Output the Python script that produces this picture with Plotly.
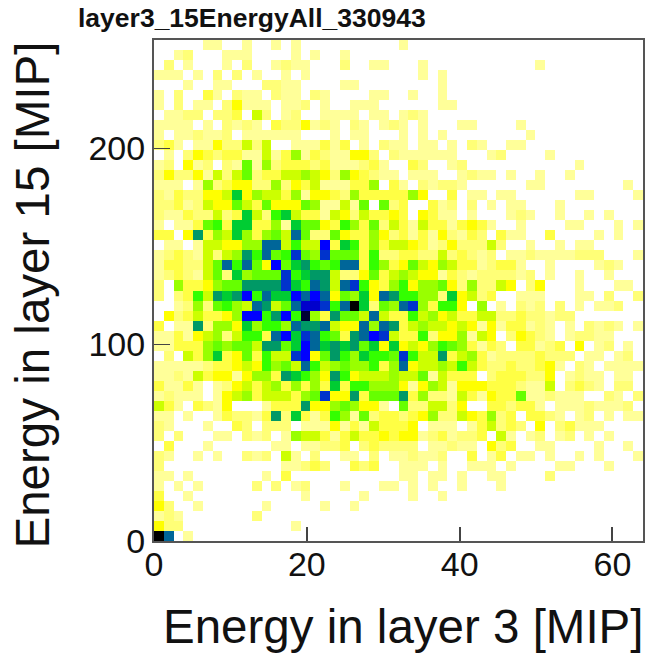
import plotly.graph_objects as go

TITLE = "layer3_15EnergyAll_330943"
X_TITLE = "Energy in layer 3 [MIP]"
Y_TITLE = "Energy in layer 15 [MIP]"
X_TICKS = [0, 20, 40, 60]
Y_TICKS = [0, 100, 200]
X_BIN = 1.28
Y_BIN = 5.1
Z = [0] * 10

PALETTE = ["#FFFFFF", "#FFFF99", "#FFFF77", "#FFFF44", "#FFFF00", "#CCFF00", "#99FF00", "#66FF00", "#33FF00",
           "#00CC33", "#009966", "#006699", "#0033CC", "#0000FF", "#0000CC", "#000033", "#000000"]

# top row first
rows_top_down = [
[0,0,0,0,0,1,1,0,0,1, 0,0,1,0,1,0,0,0,0,0, 0,0,0,0,0,1,0,0,0,0, *Z, *Z],
[0,0,1,2,0,0,0,1,1,1, 0,0,0,0,1,0,1,0,0,1, *Z, *Z, *Z],
[0,2,0,1,0,0,0,1,0,2, 0,0,1,2,1,1,0,0,0,2, 0,0,1,1,0,0,0,1,0,0, 0,0,0,0,0,0,0,0,0,1, *Z],
[1,1,1,0,1,0,2,0,2,0, 1,0,0,1,0,1,0,0,0,0, 0,0,0,0,0,0,0,1,0,1, *Z, *Z],
[0,0,0,1,0,0,1,1,0,0, 0,2,2,1,1,0,0,0,0,1, 1,0,0,0,0,0,0,0,0,1, *Z, *Z],
[1,0,2,0,0,3,1,0,2,1, 1,0,2,1,1,0,2,1,0,0, 0,0,1,1,0,0,1,0,0,1, *Z, *Z],
[1,0,2,0,1,1,0,2,4,1, 1,1,0,1,1,2,0,1,0,0, 1,1,1,0,0,0,0,0,0,1, 1,0,0,0,0,0,0,0,0,0, *Z],
[0,1,1,2,2,0,2,2,3,0, 5,2,0,1,2,0,0,1,1,1, 1,0,1,1,0,1,2,1,0,0, *Z, *Z],
[1,1,1,1,0,1,0,2,1,2, 1,0,3,2,2,4,1,2,1,0, 2,1,0,1,2,1,0,1,0,0, 0,1,1,0,0,0,0,1,0,0, *Z],
[1,0,1,1,2,1,1,2,0,1, 1,1,1,1,1,0,0,0,1,0, 1,1,0,0,0,1,0,1,0,1, 0,0,0,0,0,0,0,0,1,0, *Z],
[2,3,1,0,1,1,4,2,2,5, 2,5,0,0,1,1,1,3,1,3, 0,1,0,2,1,1,0,1,1,0, 1,0,2,1,0,0,1,1,0,0, *Z],
[0,1,0,2,4,3,2,3,3,1, 1,5,1,3,6,1,3,2,1,1, 4,4,2,0,2,1,1,1,1,1, 1,0,0,0,1,2,0,0,0,0, 1,0,0,0,0,0,0,0,0,0],
[1,2,0,4,1,2,0,2,1,7, 1,6,2,3,3,3,2,3,1,1, 1,2,3,1,0,0,3,2,0,0, 1,2,0,0,0,0,0,0,0,0, 0,0,0,1,0,0,0,0,0,0],
[2,4,2,2,4,1,5,2,5,7, 2,3,3,5,5,6,5,4,2,6, 4,3,2,1,1,0,1,1,1,0, 0,1,2,1,1,0,1,0,0,1, 0,0,1,0,0,0,0,0,0,0],
[1,1,1,0,1,6,2,3,4,4, 2,2,6,2,4,3,5,1,1,1, 3,3,6,0,3,1,0,2,1,2, 2,1,0,0,0,0,0,0,1,1, 0,0,0,0,0,0,0,0,1,0],
[2,1,3,2,2,4,4,5,9,4, 6,5,5,3,6,1,4,4,3,2, 6,3,3,3,3,3,6,4,0,0, 3,0,1,1,0,1,1,0,0,0, 0,0,0,1,1,0,0,0,0,1],
[2,2,3,1,2,5,4,4,7,5, 3,7,4,4,4,7,6,1,1,5, 1,7,0,7,2,3,0,0,3,1, 2,0,2,0,1,0,1,1,0,0, 0,1,0,0,0,0,0,0,0,0],
[2,1,1,3,2,2,5,2,3,9, 5,2,8,9,5,3,3,1,5,4, 2,5,3,3,4,3,0,4,3,1, 1,0,1,0,0,0,1,2,1,0, 0,1,0,0,1,0,1,0,0,0],
[1,0,1,1,3,7,8,3,9,9, 3,3,6,1,9,7,7,4,3,8, 6,3,7,2,5,3,1,5,3,3, 1,3,4,3,1,0,0,1,0,0, 0,0,1,1,0,0,0,1,0,1],
[3,3,0,4,10,3,6,5,9,6, 3,6,7,5,11,7,2,2,7,4, 3,3,6,4,2,3,1,3,1,4, 2,1,3,2,0,3,1,1,0,0, 3,0,0,0,0,1,0,1,0,0],
[0,1,1,0,1,5,5,4,4,6, 6,11,11,5,8,5,5,13,3,9, 8,3,6,3,5,5,4,3,1,2, 4,2,2,2,5,2,0,0,1,0, 0,1,0,1,1,0,0,0,0,0],
[1,2,3,2,1,5,2,5,6,10, 8,11,7,8,12,7,6,12,7,7, 7,3,8,2,2,3,3,2,2,5, 2,3,2,1,2,0,1,1,2,1, 1,1,1,2,2,2,0,0,0,1],
[1,3,3,2,2,5,7,11,8,11, 7,4,13,7,9,10,8,7,8,11, 11,3,8,6,3,4,7,5,4,6, 5,3,3,1,2,3,3,1,0,0, 1,0,0,0,0,1,2,1,0,0],
[1,2,3,2,1,5,7,2,9,6, 7,7,7,12,8,9,10,10,5,2, 2,4,7,3,5,6,5,4,4,1, 3,2,1,2,2,2,2,1,2,0, 1,0,0,1,0,0,1,0,0,0],
[2,0,6,3,3,4,6,7,7,10, 10,10,10,12,9,8,11,10,5,11, 12,8,4,3,6,8,4,6,6,7, 4,2,6,2,2,5,4,0,2,4, 0,0,0,1,0,0,0,1,1,0],
[2,0,2,3,8,5,10,9,10,13, 8,11,9,9,13,11,13,11,4,7, 6,9,4,11,10,8,8,6,6,2, 9,4,5,2,3,0,0,1,1,1, 0,0,0,1,1,0,2,0,0,2],
[0,0,1,2,6,2,7,8,6,5, 11,10,5,7,11,14,14,12,8,11, 16,9,2,7,6,11,12,6,3,8, 8,4,0,6,0,1,0,2,1,2, 0,2,0,1,0,1,1,2,0,0],
[0,4,2,3,5,3,3,4,6,13, 13,8,10,13,8,15,6,3,10,7, 7,5,11,5,3,3,8,5,6,4, 5,3,3,5,5,2,2,3,2,2, 1,2,2,0,0,0,0,0,0,0],
[3,0,1,1,10,2,6,6,4,9, 6,8,8,6,11,10,10,11,5,4, 4,11,6,11,10,3,5,6,5,5, 4,5,4,1,4,1,3,3,1,2, 1,0,1,0,2,1,2,1,0,1],
[1,1,3,1,4,5,6,2,5,8, 8,3,11,13,9,12,11,8,7,3, 10,11,13,12,5,3,3,8,2,4, 4,6,1,5,4,0,2,4,3,2, 1,0,1,2,2,1,1,0,0,0],
[1,1,3,3,3,6,7,6,7,7, 5,10,10,7,9,13,11,9,10,9, 10,7,9,4,9,4,5,4,6,8, 7,6,3,1,3,2,0,3,3,1, 2,3,0,4,0,1,2,0,1,0],
[0,2,0,5,3,6,9,3,4,7, 3,8,5,5,12,13,4,7,10,8, 6,9,8,8,7,12,8,5,5,10, 3,5,6,3,1,2,2,2,2,3, 2,2,2,0,1,1,0,1,2,0],
[1,1,1,1,1,2,3,3,4,5, 4,8,6,7,5,11,8,5,6,7, 6,6,8,3,6,11,4,5,5,6, 5,8,5,3,2,2,3,2,2,3, 4,1,0,2,1,0,1,1,1,1],
[1,1,2,1,5,3,4,4,1,4, 6,6,3,10,9,8,6,4,10,8, 4,5,5,5,6,5,5,7,1,5, 3,3,3,0,2,3,3,3,2,2, 4,0,1,2,1,1,0,1,1,0],
[3,1,1,3,1,0,1,2,4,5, 3,5,6,3,6,3,6,3,9,3, 8,8,6,6,6,4,1,4,6,5, 1,4,4,4,3,3,3,2,1,1, 5,0,2,3,2,1,0,2,2,0],
[1,2,1,1,1,0,1,4,5,6, 3,5,5,5,3,6,7,12,4,4, 10,3,7,7,7,10,3,6,2,2, 1,5,3,1,4,3,3,7,1,1, 2,1,1,1,0,0,2,1,0,2],
[5,3,1,0,3,2,1,4,0,0, 0,1,3,3,3,10,4,4,6,7, 6,4,4,1,0,7,2,2,5,5, 2,4,0,0,3,3,2,3,3,1, 0,1,1,1,2,1,1,1,2,0],
[1,1,0,1,0,0,1,3,2,2, 1,3,10,2,9,3,1,3,8,6, 1,7,2,3,3,2,3,4,6,2, 2,5,4,3,6,2,3,0,3,3, 2,1,0,1,2,0,1,0,1,1],
[2,1,0,0,0,1,0,0,3,2, 0,2,2,2,0,1,1,1,4,1, 3,1,5,3,3,3,4,0,1,1, 1,0,1,3,5,2,3,2,0,4, 0,2,3,1,1,1,0,0,0,0],
[2,0,2,0,0,0,1,1,0,2, 1,2,0,1,6,5,5,3,1,3, 5,3,3,4,3,4,4,1,2,3, 1,2,2,3,0,5,1,0,1,2, 0,1,2,0,1,0,1,0,0,0],
[0,3,0,0,0,1,0,0,0,0, 0,0,1,1,0,1,1,2,2,3, 0,2,3,2,2,2,2,0,1,1, 2,1,1,0,4,2,3,0,0,1, 1,0,0,0,0,1,0,0,1,0],
[2,1,0,0,1,0,1,0,0,2, 1,2,0,5,1,0,2,0,0,1, 1,0,2,0,1,1,2,1,1,2, 0,0,3,0,1,3,0,1,1,0, 1,0,0,1,0,1,0,0,0,1],
[2,0,0,0,0,0,0,0,0,0, 0,0,0,1,1,2,3,2,0,0, 3,2,3,0,0,1,1,1,0,1, 0,0,1,1,1,0,1,0,0,0, 0,1,1,0,0,0,1,0,0,0],
[1,1,0,1,0,0,0,0,0,0, 0,1,0,3,0,0,0,0,0,0, 0,0,0,0,0,1,1,0,1,1, 0,1,0,0,1,1,0,0,0,0, 2,0,0,0,0,0,0,0,0,0],
[1,0,1,0,1,0,0,0,0,0, 2,0,2,0,1,2,0,0,0,1, 0,0,0,1,1,0,1,0,1,0, 0,1,0,0,0,1,0,0,0,0, *Z],
[3,0,0,1,0,0,0,0,0,0, 0,0,0,0,0,1,0,0,0,0, 0,1,0,0,0,0,1,0,0,1, *Z, *Z],
[4,2,0,0,1,0,0,0,0,0, 0,1,0,0,0,0,0,1,0,0, 1,0,0,0,0,0,0,0,0,0, *Z, *Z],
[1,2,1,0,0,0,0,0,0,0, 2,0,0,0,0,0,0,0,0,0, *Z, *Z, *Z],
[4,2,2,0,0,0,0,0,0,0, 0,0,0,0,1,0,0,0,0,0, *Z, *Z, *Z],
[16,11,0,1,0,0,0,0,0,0, *Z, *Z, *Z, *Z],
]
assert len(rows_top_down) == 50 and all(len(r) == 50 for r in rows_top_down)

n = len(PALETTE)
colorscale = []
for i, c in enumerate(PALETTE):
    colorscale += [[i / n, c], [(i + 1) / n, c]]

fig = go.Figure(go.Heatmap(
    z=rows_top_down[::-1], x0=X_BIN / 2, dx=X_BIN, y0=Y_BIN / 2, dy=Y_BIN,
    zmin=-0.5, zmax=n - 0.5, colorscale=colorscale, showscale=False, hoverongaps=False,
))

FONT = "Liberation Sans, Arial, sans-serif"
axis = dict(showgrid=False, zeroline=False, showline=True, mirror=True, linecolor="#555555", linewidth=2,
            ticks="inside", tickcolor="#444444", tickfont=dict(family=FONT, size=34, color="#111111"))
fig.update_layout(
    width=647, height=655, margin=dict(l=154, r=4, t=40, b=114, autoexpand=False),
    paper_bgcolor="white", plot_bgcolor="white",
    xaxis=dict(range=[0, 64], tickvals=X_TICKS, ticklen=14, tickwidth=2, ticklabelstandoff=-8, **axis),
    yaxis=dict(range=[0, 255], tickvals=Y_TICKS, ticklen=16, tickwidth=1, **axis),
    annotations=[
        dict(text=f"<b>{TITLE}</b>", xref="paper", yref="paper", x=-0.155, y=1.0, xanchor="left", yanchor="bottom",
             xshift=-2, yshift=5, showarrow=False, font=dict(family=FONT, size=26.5, color="#111111")),
        dict(text=X_TITLE, xref="paper", yref="paper", x=1.0, y=0, xanchor="right", yanchor="top", yshift=-57,
             xshift=2, showarrow=False, font=dict(family=FONT, size=47.5, color="#111111")),
        dict(text=Y_TITLE, xref="paper", yref="paper", x=0, y=1.0, xanchor="center", yanchor="top", xshift=-122,
             textangle=-90, showarrow=False, font=dict(family=FONT, size=47.5, color="#111111")),
    ],
)
fig.write_html("out.html", config={"displayModeBar": False}, post_script="document.body.style.margin='0';")
